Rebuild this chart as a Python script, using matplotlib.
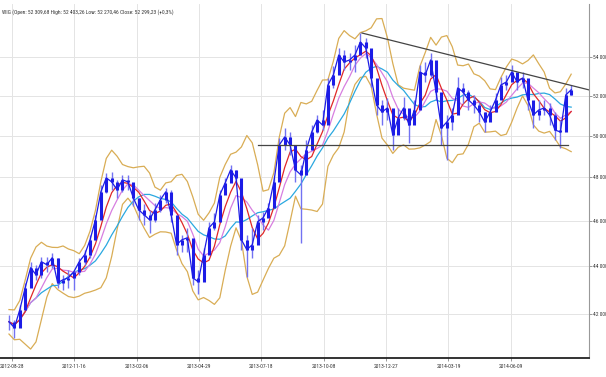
import numpy as np
import pandas as pd
import matplotlib
matplotlib.use("Agg")
import matplotlib.pyplot as plt
from matplotlib import font_manager
from matplotlib.ticker import FixedLocator, NullLocator

# weekly bars of the WIG index
close = [41687, 41443, 42178, 43096, 43947, 43647, 44205, 44076, 44379, 43307,
         43434, 43519, 43776, 44205, 44509, 45165, 46055, 47331, 47981, 47794,
         47424, 47888, 47794, 47055, 46507, 46281, 46055, 46507, 46963, 47331,
         46281, 44946, 45165, 45253, 43519, 43349, 44509, 45696, 45965, 47193,
         47748, 48357, 47981, 45165, 44727, 44946, 45965, 46145, 46598, 47794,
         49550, 49939, 49550, 48357, 48121, 49309, 50183, 50775, 50527, 52542,
         53058, 54106, 53736, 53842, 54106, 54798, 54477, 52903, 51525, 51174,
         51374, 50036, 50875, 51374, 50527, 51274, 53214, 53058, 53842, 52184,
         50379, 50676, 51024, 52389, 52184, 51777, 51525, 51174, 50676, 51174,
         51777, 52542, 52697, 53214, 52697, 52903, 51777, 51024, 51274, 51374,
         51024, 50281, 50183, 52032, 52299]
high = [41973, 41769, 42385, 43307, 44205, 44076, 44422, 44422, 44596, 44379,
        43647, 43861, 43861, 44379, 44727, 45386, 46281, 47655, 48215, 48262,
        47888, 48121, 48121, 47609, 47055, 46780, 46507, 46826, 47193, 47516,
        47424, 46055, 45386, 45696, 44509, 43861, 44814, 45965, 46371, 47424,
        47981, 48594, 48357, 47888, 45386, 45696, 46281, 46416, 46826, 48028,
        49890, 50379, 50183, 49309, 48594, 49792, 50527, 51024, 51274, 52903,
        53527, 54477, 54370, 54211, 54637, 55282, 55012, 53947, 52542, 51777,
        51880, 51024, 51374, 51931, 51274, 51777, 53579, 53736, 54211, 52800,
        51274, 51024, 51374, 52955, 52646, 52286, 52032, 51676, 51174, 51525,
        52133, 52955, 53058, 53579, 53162, 53214, 52542, 51626, 51777, 51777,
        51626, 51174, 50775, 52389, 52542]
low = [41363, 41040, 41565, 42385, 43222, 43434, 43519, 43776, 43947, 43096,
       43011, 43096, 43011, 43647, 44076, 44379, 45165, 46507, 47285, 47424,
       47055, 47331, 47424, 46689, 46055, 45830, 45474, 45965, 46416, 46826,
       45965, 44509, 44640, 44640, 43222, 42843, 43861, 45165, 45607, 46507,
       47331, 47888, 47655, 44727, 43562, 44379, 45165, 45607, 46235, 47147,
       48594, 49309, 49069, 47794, 45033, 48688, 49792, 50134, 50281, 51174,
       52389, 53318, 53318, 53318, 53214, 54370, 53947, 52440, 51024, 50527,
       50775, 49309, 50183, 50775, 49647, 50775, 52286, 52697, 52955, 51777,
       49550, 48831, 50281, 51777, 51626, 51274, 51124, 50676, 50183, 50775,
       51174, 52032, 52286, 52800, 52286, 52389, 51274, 50379, 50775, 51024,
       50527, 49792, 49405, 50527, 52032]

tick_pos = [0.55, 12.08, 23.6, 35.1, 46.7, 58.2, 69.7, 81.3, 92.8]
tick_labels = ["2012-08-28", "2012-11-16", "2013-02-06", "2013-04-29", "2013-07-18",
               "2013-10-08", "2013-12-27", "2014-03-19", "2014-06-09"]
y_ticks = [42000, 44000, 46000, 48000, 50000, 52000, 54000]

# trend lines drawn on the chart
resist_x = [65.3, 107.3]
resist_y = [55280, 52290]
support_x = [46.0, 103.5]
support_y = [49550, 49550]

title = "WIG (Open: 52 309,68 High: 52 403,26 Low: 52 270,46 Close: 52 299,23 (+0,3%)"


def pick_font(names):
    for n in names:
        try:
            font_manager.findfont(n, fallback_to_default=False)
            return n
        except ValueError:
            pass
    return None


narrow = pick_font(["Liberation Sans Narrow", "Arial Narrow", "Roboto Condensed",
                    "Open Sans Condensed"])
if narrow:
    fnt = [narrow, "DejaVu Sans"]
    fs = 4.0
else:
    fnt = ["DejaVu Sans"]
    fs = 3.3

# --- indicators ---
s = pd.Series(close, dtype=float)
ma_fast = s.rolling(4, min_periods=1).mean()
ma_mid = s.rolling(6, min_periods=1).mean()
ma_slow = s.rolling(10, min_periods=1).mean()

bb_win = 5
bb_mid = s.rolling(bb_win, min_periods=1).mean()
bb_std = []
for i in range(len(close)):
    j = max(0, i - bb_win + 1)
    pool = close[j:i + 1] + high[j:i + 1] + low[j:i + 1]
    bb_std.append(np.std(pool))
bb_std = np.array(bb_std)
bb_up = bb_mid + 2 * bb_std
bb_lo = bb_mid - 2 * bb_std

x = np.arange(len(close))
# candle body: from previous close to this close
opn = [close[0]] + close[:-1]
body_lo = np.minimum(opn, close)
body_hi = np.maximum(opn, close)

fig = plt.figure(figsize=(6.06, 3.77), dpi=100)
ax = fig.add_axes([0.0, 0.0504, 0.972, 0.939])
ax.set_yscale("log")

ax.plot(x, bb_up, color="#d9ad55", lw=0.9)
ax.plot(x, bb_lo, color="#d9ad55", lw=0.9)
ax.plot(x, ma_slow, color="#2aa8e0", lw=0.9)
ax.plot(x, ma_mid, color="#d77ee0", lw=0.9)
ax.plot(x, ma_fast, color="#e02828", lw=0.9)

ax.vlines(x, low, high, color="#7272f2", lw=1.0)
ax.vlines(x, body_lo, body_hi, color="#1c1ce6", lw=2.2)
ax.plot(x, close, color="#1c1ce6", lw=0.9)

ax.plot(resist_x, resist_y, color="#444444", lw=0.9)
ax.plot(support_x, support_y, color="#444444", lw=0.9)

ax.set_xlim(-1.66, 107.3)
ax.set_ylim(40235, 56871)

ax.yaxis.tick_right()
ax.yaxis.set_major_locator(FixedLocator(y_ticks))
ax.yaxis.set_minor_locator(NullLocator())
ax.set_yticklabels([f"{v:,}".replace(",", " ") for v in y_ticks])
ax.set_xticks(tick_pos)
ax.set_xticklabels(tick_labels)

for lab in ax.get_xticklabels() + ax.get_yticklabels():
    lab.set_fontsize(fs)
    lab.set_family(fnt)
    lab.set_color("#333333")
ax.tick_params(axis="both", length=2.5, width=0.6, color="#888888", pad=1.5)
ax.tick_params(axis="y", length=2, pad=0.8)

ax.grid(True, color="#e4e4e4", lw=0.7)
ax.set_axisbelow(True)
for side in ["left", "top"]:
    ax.spines[side].set_visible(False)
ax.spines["right"].set_color("#999999")
ax.spines["bottom"].set_color("#111111")
ax.spines["bottom"].set_linewidth(1.2)

ax.text(0.003, 0.985, title, transform=ax.transAxes, fontsize=fs, family=fnt,
        va="top", ha="left", color="#333333")

fig.savefig("out.png", dpi=100)
